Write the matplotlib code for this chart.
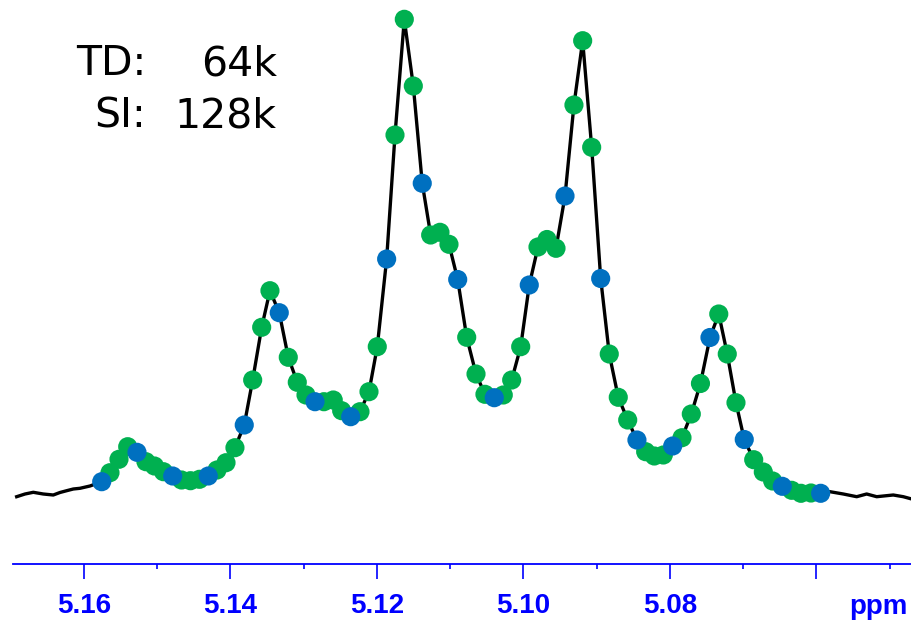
import matplotlib
matplotlib.use("Agg")
import matplotlib.pyplot as plt
from matplotlib.ticker import FixedLocator

# Data points (ppm, intensity in arbitrary units)
# TD = 64k points (blue)
blue_ppm = [5.15758, 5.15276, 5.14789, 5.14303, 5.13812, 5.13334, 5.12846,
            5.12359, 5.11868, 5.11382, 5.10898, 5.10399, 5.09921, 5.09433,
            5.08946, 5.08451, 5.07963, 5.07454, 5.06986, 5.06467, 5.05943]
blue_int = [11.3, 40.7, 17, 17, 68, 180.3, 91.3,
            76.3, 234, 309.7, 213.5, 95.3, 208, 297,
            214.5, 53, 47, 155.5, 53.5, 6.7, -0.3]

# zero filled to SI = 128k (green, in between the blue ones)
green_ppm = [5.15645, 5.15522, 5.15403, 5.15154, 5.15038, 5.14915,
             5.14668, 5.14546, 5.14423, 5.14184, 5.14061, 5.13939,
             5.13697, 5.13574, 5.13461, 5.13211, 5.13088, 5.12969,
             5.12724, 5.12597, 5.12482, 5.12232, 5.12109, 5.11996,
             5.11754, 5.11627, 5.11504, 5.11267, 5.11140, 5.11017,
             5.10775, 5.10648, 5.10526, 5.10276, 5.10161, 5.10038,
             5.09802, 5.09679, 5.09556, 5.09311, 5.09192, 5.09069,
             5.08829, 5.08706, 5.08577, 5.08332, 5.08214, 5.08091,
             5.07836, 5.07709, 5.07584, 5.07334, 5.07218, 5.07099,
             5.06857, 5.06726, 5.06598, 5.06339, 5.06212, 5.06075]
green_int = [20.3, 33.7, 46.3, 31.3, 27, 21.3,
             13, 12.3, 13.7, 23, 30.3, 45.3,
             113, 165.7, 202.3, 135.7, 110.7, 98,
             91.3, 93, 82.3, 81.3, 101.3, 146.3,
             358, 473.7, 407, 258, 260.7, 248.7,
             155.7, 119, 98.7, 98, 113, 146.3,
             246, 253.5, 244.7, 388, 452.3, 345.7,
             139, 95.7, 73, 41.3, 37, 38,
             55.3, 79, 109.5, 179, 139, 90.3,
             33.3, 21, 12, 2.7, -0.3, 0]

# baseline of the spectrum outside the multiplet
base_left_ppm = [5.16919, 5.16805, 5.16692, 5.16556, 5.16419, 5.16328,
                 5.16236, 5.16146, 5.16055, 5.15918]
base_left_int = [-3.7, -1, 0.7, -1, -2, 0.5, 2.3, 4, 4.7, 7]
base_right_ppm = [5.05816, 5.05634, 5.05451, 5.05315, 5.05178, 5.04952,
                  5.04815, 5.04700]
base_right_int = [1.3, -1, -3.7, -1, -3.7, -2, -3.7, -6]

major_ticks = [5.16, 5.14, 5.12, 5.10, 5.08, 5.06]
major_labels = ["5.16", "5.14", "5.12", "5.10", "5.08", ""]
minor_ticks = [5.15, 5.13, 5.11, 5.09, 5.07, 5.05]

# spectrum line goes through all points, sorted along the ppm axis
line = sorted(zip(base_left_ppm + blue_ppm + green_ppm + base_right_ppm,
                  base_left_int + blue_int + green_int + base_right_int))
line_ppm = [p for p, v in line]
line_int = [v for p, v in line]

fig = plt.figure(figsize=(9.12, 6.21), dpi=100)
ax = fig.add_axes([13 / 912, 57 / 621, 899 / 912, 564 / 621])

ax.plot(line_ppm, line_int, color="black", lw=2.4, zorder=1)
ax.scatter(green_ppm, green_int, s=190, color="#00B050", edgecolors="none", zorder=2)
ax.scatter(blue_ppm, blue_int, s=190, color="#0070C0", edgecolors="none", zorder=3)

ax.set_xlim(5.16969, 5.04696)
ax.set_ylim(-71, 493)

# only the bottom (blue) axis is shown
for side in ["top", "left", "right"]:
    ax.spines[side].set_visible(False)
ax.spines["bottom"].set_color("#0000FF")
ax.spines["bottom"].set_linewidth(1.3)
ax.set_yticks([])

ax.xaxis.set_major_locator(FixedLocator(major_ticks))
ax.xaxis.set_minor_locator(FixedLocator(minor_ticks))
ax.set_xticklabels(major_labels)
ax.tick_params(axis="x", which="major", length=10.8, width=1.2, color="#0000FF",
               pad=10, labelcolor="#0000FF", labelsize=20)
ax.tick_params(axis="x", which="minor", length=3.6, width=1.2, color="#0000FF")
for lab in ax.get_xticklabels():
    lab.set_fontfamily("Liberation Sans")
    lab.set_fontweight("bold")

ax.text(5.0516, -0.0537, "ppm", transform=ax.get_xaxis_transform(),
        ha="center", va="top", color="#0000FF", fontsize=20,
        fontweight="bold", fontfamily="Liberation Sans")

# acquisition / processing parameters
txt = dict(fontsize=29.5, fontfamily="DejaVu Sans", color="black", va="baseline", ha="right")
fig.text(146 / 912, 1 - 75 / 621, "TD:", **txt)
fig.text(277 / 912, 1 - 75 / 621, "64k", **txt)
fig.text(146 / 912, 1 - 128 / 621, "SI:", **txt)
fig.text(277 / 912, 1 - 128 / 621, "128k", **txt)

fig.savefig("out.png", dpi=100)
